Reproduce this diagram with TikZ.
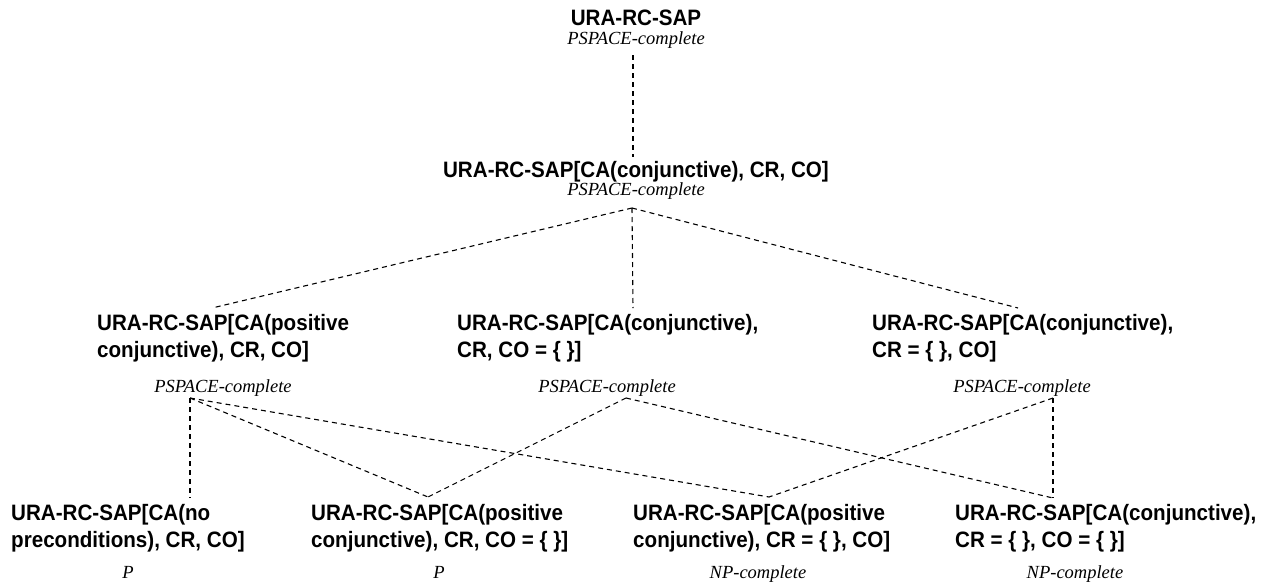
\documentclass[tikz,border=0pt]{standalone}
\usepackage{fontspec}
\setmainfont{Liberation Serif}
\newfontfamily\hsans[FakeStretch=0.924]{Liberation Sans}
\tikzset{
  lbl/.style={font=\hsans\bfseries\fontsize{22.3}{27}\selectfont, inner sep=0pt, align=left},
  cls/.style={font=\itshape\fontsize{18.5}{22}\selectfont, inner sep=0pt, anchor=base},
  link/.style={draw, dash pattern=on 5pt off 4pt, line width=1.1pt}
}
\begin{document}
\begin{tikzpicture}[x=1pt,y=-1pt]
\useasboundingbox (0,0) rectangle (1272,584);
% top
\node[lbl, anchor=base] (top) at (636,25) {URA-RC-SAP};
\node[cls] (topc) at (636,44) {PSPACE-complete};
% row 1
\node[lbl, anchor=base] (r1) at (636,177) {URA-RC-SAP[CA(conjunctive), CR, CO]};
\node[cls] (r1c) at (636,195) {PSPACE-complete};
% level 2
\node[lbl, anchor=north west] (a2) at (97,314) {URA-RC-SAP[CA(positive\\conjunctive), CR, CO]};
\node[cls] (a2c) at (223,392) {PSPACE-complete};
\node[lbl, anchor=north west] (b2) at (457,314) {URA-RC-SAP[CA(conjunctive),\\CR, CO = \{ \}]};
\node[cls] (b2c) at (607,392) {PSPACE-complete};
\node[lbl, anchor=north west] (c2) at (872,314) {URA-RC-SAP[CA(conjunctive),\\CR = \{ \}, CO]};
\node[cls] (c2c) at (1022,392) {PSPACE-complete};
% level 3
\node[lbl, anchor=north west] (a3) at (11,504) {URA-RC-SAP[CA(no\\preconditions), CR, CO]};
\node[cls] (a3c) at (128,578) {P};
\node[lbl, anchor=north west] (b3) at (311,504) {URA-RC-SAP[CA(positive\\conjunctive), CR, CO = \{ \}]};
\node[cls] (b3c) at (439,578) {P};
\node[lbl, anchor=north west] (c3) at (633,504) {URA-RC-SAP[CA(positive\\conjunctive), CR = \{ \}, CO]};
\node[cls] (c3c) at (758,578) {NP-complete};
\node[lbl, anchor=north west] (d3) at (955,504) {URA-RC-SAP[CA(conjunctive),\\CR = \{ \}, CO = \{ \}]};
\node[cls] (d3c) at (1075,578) {NP-complete};
% connection points
\coordinate (pTopB) at (633,55);
\coordinate (pR1T) at (633,157);
\coordinate (pR1B) at (632,208);
\coordinate (pA2T) at (212,308);
\coordinate (pB2T) at (633,308);
\coordinate (pC2T) at (1018,308);
\coordinate (pA2B) at (190,398);
\coordinate (pB2B) at (626,398);
\coordinate (pC2B) at (1053,398);
\coordinate (pA3T) at (190,498);
\coordinate (pB3T) at (428,497);
\coordinate (pC3T) at (769,497);
\coordinate (pD3T) at (1053,498);
% connectors
\path[link] (pTopB) -- (pR1T);
\path[link] (pR1B) -- (pA2T);
\path[link] (pR1B) -- (pB2T);
\path[link] (pR1B) -- (pC2T);
\path[link] (pA2B) -- (pA3T);
\path[link] (pA2B) -- (pB3T);
\path[link] (pA2B) -- (pC3T);
\path[link] (pB2B) -- (pB3T);
\path[link] (pB2B) -- (pD3T);
\path[link] (pC2B) -- (pC3T);
\path[link] (pC2B) -- (pD3T);
\end{tikzpicture}
\end{document}
